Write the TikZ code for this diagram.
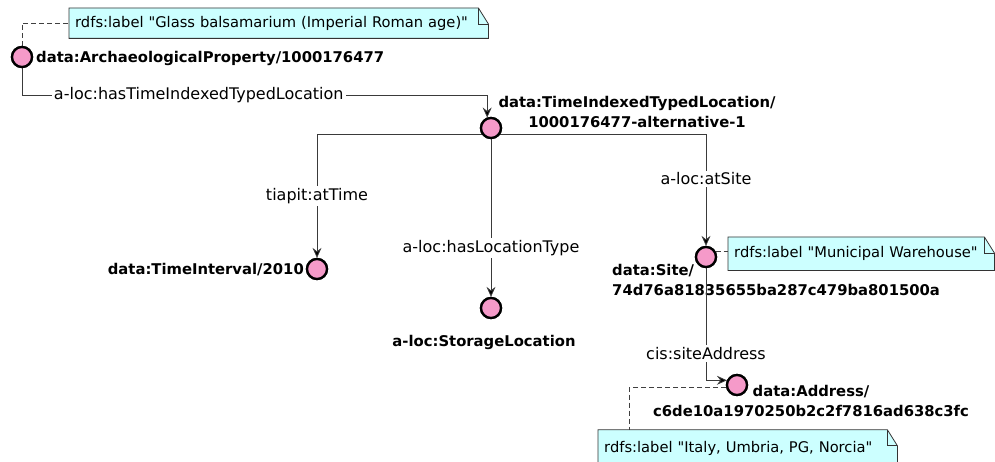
\documentclass[tikz,border=0pt]{standalone}
\usepackage{fontspec}
\setmainfont{DejaVu Sans}[Ligatures=TeXOff]
\usepackage{xcolor}
\usetikzlibrary{arrows.meta,calc,positioning,backgrounds}
\definecolor{indpink}{HTML}{F59AC9}
\definecolor{notecyan}{HTML}{CCFFFF}
\definecolor{linkgray}{HTML}{3A3A3A}
\tikzset{
	ind/.style={circle,draw=black,line width=2.3pt,fill=indpink,minimum size=20pt,inner sep=0pt},
	iri/.style={font=\fontsize{14.8}{20}\selectfont\bfseries,inner sep=1pt,align=center},
	link/.style={draw=linkgray,line width=0.8pt,arrows={-Stealth[length=10pt,width=9pt,inset=3.5pt,fill=black]}},
	lbl/.style={fill=white,font=\fontsize{16}{18}\selectfont,inner sep=2pt},
	notelink/.style={draw=black!75,line width=0.8pt,dash pattern=on 5pt off 3pt},
	note/.style={font=\fontsize{14.7}{18}\selectfont,inner xsep=6pt,minimum height=30pt,align=left,anchor=north west}
}
% outline with folded corner
\newcommand{\notebox}[1]{%
	\fill[notecyan] (#1.south west) -- (#1.north west) -- ($(#1.north east)+(-10pt,0)$) -- ($(#1.north east)+(0,-16pt)$) -- (#1.south east) -- cycle;
	\draw[black!80,line width=0.8pt] (#1.south west) -- (#1.north west) -- ($(#1.north east)+(-10pt,0)$) -- ($(#1.north east)+(0,-16pt)$) -- (#1.south east) -- cycle;
	\draw[black!80,line width=0.8pt] ($(#1.north east)+(-10pt,0)$) -- ($(#1.north east)+(-10pt,-16pt)$) -- ($(#1.north east)+(0,-16pt)$);
}

\begin{document}
\begin{tikzpicture}[x=1pt,y=-1pt]
	\clip (0,0) rectangle (995,462);
	
	\node[ind] (ap) at (22,57) {};
	\node[iri,anchor=west] (apname) at (35,58) {data:ArchaeologicalProperty/1000176477};
	\node[ind] (titl) at (491,128) {};
	\node[iri] (titlname) at (637,112) {data:TimeIndexedTypedLocation/\\1000176477-alternative-1};
	\node[ind] (ti) at (317,269) {};
	\node[iri,anchor=east] (tiname) at (305,270) {data:TimeInterval/2010};
	\node[ind] (sl) at (491,308) {};
	\node[iri] (slname) at (484,342) {a-loc:StorageLocation};
	\node[ind] (site) at (706,257) {};
	\node[iri,anchor=north west,align=left] (sitename) at (611,263) {data:Site/\\74d76a81835655ba287c479ba801500a};
	\node[ind] (addr) at (737,385) {};
	\node[iri] (addrname) at (811,401) {data:Address/\\c6de10a1970250b2c2f7816ad638c3fc};
	
	% notes
	\node[note,text width=407pt] (note1) at (69,8) {rdfs:label "Glass balsamarium (Imperial Roman age)"};
	\node[note,text width=254pt,minimum height=33pt] (note2) at (728,237) {rdfs:label "Municipal Warehouse"};
	\node[note,text width=287pt,minimum height=40pt,anchor=west] (note3) at (598,450) {\raisebox{7pt}{rdfs:label "Italy, Umbria, PG, Norcia"}};
	\begin{scope}[on background layer]
		\notebox{note1}
		\notebox{note2}
		\notebox{note3}
	\end{scope}
	
	\draw[notelink] (ap.north) |- (note1.west);
	\draw[notelink] (site.30) -- (site.30 -| note2.west);
	\draw[notelink] (addr.195) -| ($(note3.north west)+(31pt,0)$);
	
	% links
	\draw[link] (ap.south) |- node[lbl,pos=0.69] {a-loc:hasTimeIndexedTypedLocation} ($(titl.110)+(0,-22)$) -- (titl.110);
	\draw[link] (titl.215) -| node[lbl,pos=0.75] {tiapit:atTime} (ti.north);
	\draw[link] (titl) -- node[lbl,pos=0.69] {a-loc:hasLocationType} (sl);
	\draw[link] (titl.-35) -| node[lbl,pos=0.7] {a-loc:atSite} (site.north);
	\draw[link] (site.south) |- node[lbl,pos=0.38] {cis:siteAddress} (addr.155);
	
	% redraw circles over the lines
	\foreach \n in {ap,titl,ti,sl,site,addr}
		\node[ind] at (\n) {};
\end{tikzpicture}
\end{document}
